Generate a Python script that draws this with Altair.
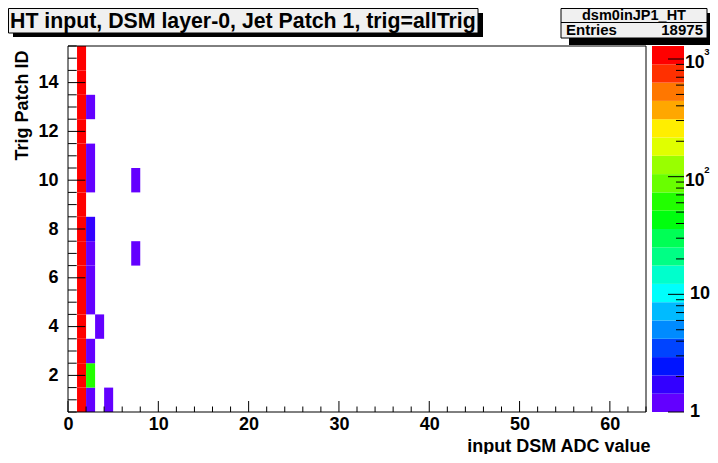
import altair as alt
import pandas as pd
import numpy as np

# ---------------- data ----------------
patch_ids = list(range(1, 16))
hot_adc = 1
hot_counts = [1265, 1240, 1290, 1255, 1270, 1248, 1262, 1275, 1251, 1259,
              1244, 1268, 1256, 1262, 1254]
extra_adc = [2, 2, 2, 2, 2, 2, 2, 2, 2, 2, 3, 4, 7, 7]
extra_patch = [1, 2, 3, 5, 6, 7, 8, 10, 11, 13, 4, 1, 7, 10]
extra_count = [1, 62, 1, 1, 1, 1, 2, 1, 1, 1, 1, 1, 1, 1]

x_tick_labels = [0, 10, 20, 30, 40, 50, 60]
y_tick_labels = [2, 4, 6, 8, 10, 12, 14]
z_tick_labels = [1, 10, 100, 1000]
z_label_base = ["1", "10", "10", "10"]
z_label_sup = ["", "", "2", "3"]

palette = ["#6300ff", "#3300ff", "#0014ff", "#0044ff", "#008bff",
           "#00bbff", "#00fffc", "#00ffcc", "#00ff85", "#00ff55",
           "#00ff0e", "#22ff00", "#69ff00", "#99ff00", "#e0ff00",
           "#ffee00", "#ffa700", "#ff7700", "#ff3000", "#ff0000"]

title_text = "HT input, DSM layer-0, Jet Patch 1, trig=allTrig"
hist_name = "dsm0inJP1_HT"
x_title = "input DSM ADC value"
y_title = "Trig Patch  ID"

# ---------------- layout ----------------
W, H = 578, 366
FONT = "Liberation Sans"

cells = pd.DataFrame({
    "adc": [hot_adc] * len(patch_ids) + extra_adc,
    "patch": patch_ids + extra_patch,
    "count": hot_counts + extra_count,
})
entries = int(cells["count"].sum())
zmax = float(cells["count"].max())
logmax = np.log10(zmax)
nlev = len(palette)
thresholds = [float(10 ** (k * logmax / nlev)) for k in range(1, nlev)]
bands = pd.DataFrame({
    "lo": [10 ** (k * logmax / nlev) for k in range(nlev)],
    "hi": [10 ** ((k + 1) * logmax / nlev) for k in range(nlev)],
    "mid": [10 ** ((k + 0.5) * logmax / nlev) for k in range(nlev)],
})

xsc = alt.Scale(domain=[0, 64], nice=False, zero=False)
ysc = alt.Scale(domain=[0.5, 15.5], nice=False, zero=False)
zsc = alt.Scale(type="log", domain=[1, zmax], nice=False)
csc = alt.Scale(type="threshold", domain=thresholds, range=palette)

lab = dict(labelFont=FONT, labelFontWeight="bold", labelFontSize=18,
           labelColor="black", labelFlush=False, labelOverlap=False,
           ticks=False, domain=False, grid=False)
ttl = dict(titleFont=FONT, titleFontWeight="bold", titleFontSize=18,
           titleColor="black")

xaxis = alt.Axis(orient="bottom", values=x_tick_labels, labelPadding=3,
                 title=x_title, titleX=582, titleY=39, titleAlign="right",
                 titleBaseline="alphabetic", titleAngle=0, **lab, **ttl)
yaxis = alt.Axis(orient="left", values=y_tick_labels, labelPadding=10,
                 title=y_title, titleX=-41, titleY=4, titleAngle=270,
                 titleAlign="right", titleBaseline="alphabetic", **lab, **ttl)

one = pd.DataFrame({"a": [0]})

heat = alt.Chart(cells).transform_calculate(
    x0="datum.adc", x1="datum.adc + 1",
    y0="datum.patch - 0.5", y1="datum.patch + 0.5",
).mark_rect().encode(
    x=alt.X("x0:Q", scale=xsc, axis=xaxis), x2="x1:Q",
    y=alt.Y("y0:Q", scale=ysc, axis=yaxis), y2="y1:Q",
    color=alt.Color("count:Q", scale=csc, legend=None),
)

frame = alt.Chart(one).mark_rect(filled=False, stroke="black", strokeWidth=1).encode(
    x=alt.value(0), x2=alt.value(W), y=alt.value(0), y2=alt.value(H))

xt_major = pd.DataFrame({"v": [v for v in range(0, 65, 10)]})
xt_minor = pd.DataFrame({"v": [v for v in range(0, 65, 2) if v % 10]})
yt_major = pd.DataFrame({"v": y_tick_labels})
yt_minor = pd.DataFrame({"v": [k / 2 for k in range(1, 32) if (k / 2) not in y_tick_labels]})

tick_style = dict(color="black", strokeWidth=1)
xt1 = alt.Chart(xt_major).mark_rule(**tick_style).encode(
    x=alt.X("v:Q", scale=xsc, axis=xaxis), y=alt.value(H), y2=alt.value(H - 11))
xt2 = alt.Chart(xt_minor).mark_rule(**tick_style).encode(
    x=alt.X("v:Q", scale=xsc, axis=xaxis), y=alt.value(H), y2=alt.value(H - 5.5))
yt1 = alt.Chart(yt_major).mark_rule(**tick_style).encode(
    y=alt.Y("v:Q", scale=ysc, axis=yaxis), x=alt.value(0), x2=alt.value(17.3))
yt2 = alt.Chart(yt_minor).mark_rule(**tick_style).encode(
    y=alt.Y("v:Q", scale=ysc, axis=yaxis), x=alt.value(0), x2=alt.value(8.7))

# title box
t_shadow = alt.Chart(one).mark_rect(color="black").encode(
    x=alt.value(-55), x2=alt.value(415), y=alt.value(-33), y2=alt.value(-9))
t_box = alt.Chart(one).mark_rect(fill="#f0f0f0", stroke="black", strokeWidth=1).encode(
    x=alt.value(-59.5), x2=alt.value(410), y=alt.value(-37.5), y2=alt.value(-13))
t_text = alt.Chart(one).mark_text(
    text=title_text, font=FONT, fontWeight="bold", fontSize=21.3, color="black",
    align="left", baseline="alphabetic").encode(
    x=alt.value(-58), y=alt.value(-18))

# stats box
s_shadow = alt.Chart(one).mark_rect(color="black").encode(
    x=alt.value(501), x2=alt.value(646), y=alt.value(-33), y2=alt.value(-1))
s_box = alt.Chart(one).mark_rect(fill="#f0f0f0", stroke="black", strokeWidth=1).encode(
    x=alt.value(493), x2=alt.value(639), y=alt.value(-37.5), y2=alt.value(-8))
s_line = alt.Chart(one).mark_rule(color="black", strokeWidth=1).encode(
    x=alt.value(493), x2=alt.value(639), y=alt.value(-23.5))
s_name = alt.Chart(one).mark_text(
    text=hist_name, font=FONT, fontWeight="bold", fontSize=14.5, color="black",
    align="center", baseline="alphabetic").encode(x=alt.value(566), y=alt.value(-26.5))
s_ent = alt.Chart(one).mark_text(
    text="Entries", font=FONT, fontWeight="bold", fontSize=15, color="black",
    align="left", baseline="alphabetic").encode(x=alt.value(498), y=alt.value(-11))
s_val = alt.Chart(one).mark_text(
    text=str(entries), font=FONT, fontWeight="bold", fontSize=15, color="black",
    align="right", baseline="alphabetic").encode(x=alt.value(635), y=alt.value(-11))

main = alt.layer(heat, xt1, xt2, yt1, yt2, frame,
                 t_shadow, t_box, t_text, s_shadow, s_box, s_line, s_name, s_ent, s_val)

# colour bar
cb_major = pd.DataFrame({"v": z_tick_labels})
cb_minor = pd.DataFrame({"v": [m * 10 ** d for d in range(4) for m in range(2, 10) if m * 10 ** d <= zmax]})
cb_labels = pd.DataFrame({"v": z_tick_labels, "base": z_label_base, "sup": z_label_sup})
cb_plain = cb_labels[cb_labels["sup"] == ""]
cb_pow = cb_labels[cb_labels["sup"] != ""]

cb_rects = alt.Chart(bands).mark_rect().encode(
    y=alt.Y("lo:Q", scale=zsc, axis=None), y2="hi:Q",
    x=alt.value(584), x2=alt.value(616),
    color=alt.Color("mid:Q", scale=csc, legend=None))
cb_t1 = alt.Chart(cb_major).mark_rule(**tick_style).encode(
    y=alt.Y("v:Q", scale=zsc, axis=None), x=alt.value(600), x2=alt.value(616))
cb_t2 = alt.Chart(cb_minor).mark_rule(**tick_style).encode(
    y=alt.Y("v:Q", scale=zsc, axis=None), x=alt.value(608), x2=alt.value(616))
lab_style = dict(font=FONT, fontWeight="bold", color="black", align="left", baseline="middle")
cb_l1 = alt.Chart(cb_plain).mark_text(fontSize=18, **lab_style).encode(
    y=alt.Y("v:Q", scale=zsc, axis=None), x=alt.value(622), text="base:N")
cb_l2 = alt.Chart(cb_pow).mark_text(fontSize=17.5, dy=4, **lab_style).encode(
    y=alt.Y("v:Q", scale=zsc, axis=None), x=alt.value(617), text="base:N")
cb_l3 = alt.Chart(cb_pow).mark_text(fontSize=9.5, dy=-7, **lab_style).encode(
    y=alt.Y("v:Q", scale=zsc, axis=None), x=alt.value(636.3), text="sup:N")
cbar = alt.layer(cb_rects, cb_t1, cb_t2, cb_l1, cb_l2, cb_l3)

chart = alt.layer(main, cbar).resolve_scale(y="independent").properties(
    width=W, height=H,
    autosize=alt.AutoSizeParams(type="none"),
    padding={"left": 60, "top": 38, "right": 64, "bottom": 42},
    background="white",
).configure_view(stroke=None)

chart.save("out.html", embed_options={"renderer": "svg", "actions": False})
